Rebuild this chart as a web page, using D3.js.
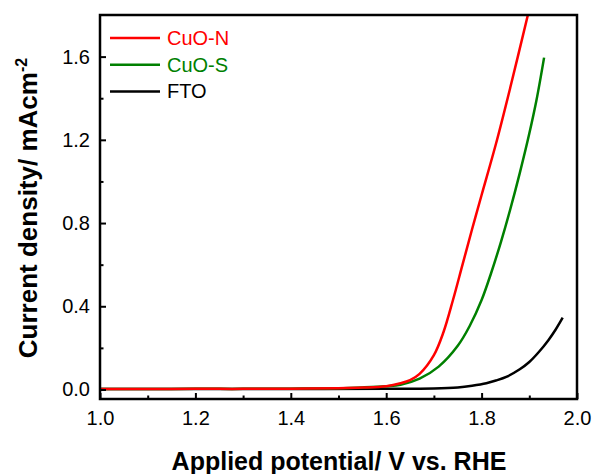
<!DOCTYPE html>
<html>
<head>
<meta charset="utf-8">
<script src="https://cdn.jsdelivr.net/npm/d3@7"></script>
<style>
  body { margin: 0; background: #fff; }
  #chart { width: 596px; height: 474px; }
  text { font-family: Arial, "Liberation Sans", sans-serif; }
  .tick-label { font-size: 20px; fill: #000; }
  .axis-title { font-weight: bold; fill: #000; }
  .legend-label { font-size: 20px; }
</style>
</head>
<body>
<div id="chart"></div>
<script>
// Potentials (V vs. RHE) and current densities (mA cm-2)
const cuoNPotential = [1.00, 1.10, 1.20, 1.30, 1.40, 1.50, 1.55, 1.60, 1.63, 1.65, 1.67, 1.70, 1.72, 1.74, 1.76, 1.78, 1.80, 1.83, 1.86, 1.897];
const cuoNCurrent   = [0.002, 0.002, 0.003, 0.003, 0.004, 0.006, 0.009, 0.016, 0.030, 0.045, 0.075, 0.165, 0.275, 0.43, 0.60, 0.77, 0.935, 1.18, 1.45, 1.80];

const cuoSPotential = [1.00, 1.10, 1.20, 1.30, 1.40, 1.50, 1.55, 1.60, 1.63, 1.67, 1.71, 1.75, 1.775, 1.80, 1.82, 1.84, 1.86, 1.88, 1.90, 1.915, 1.931];
const cuoSCurrent   = [0.002, 0.002, 0.003, 0.003, 0.004, 0.006, 0.010, 0.016, 0.023, 0.052, 0.11, 0.21, 0.305, 0.43, 0.56, 0.705, 0.865, 1.04, 1.23, 1.39, 1.595];

const ftoPotential = [1.00, 1.20, 1.40, 1.60, 1.70, 1.75, 1.78, 1.81, 1.83, 1.853, 1.88, 1.90, 1.92, 1.94, 1.955, 1.97];
const ftoCurrent   = [0.002, 0.002, 0.002, 0.003, 0.005, 0.010, 0.018, 0.030, 0.043, 0.062, 0.097, 0.132, 0.18, 0.237, 0.287, 0.345];

const seriesNames = ['CuO-N', 'CuO-S', 'FTO'];
const seriesColors = ['#ff0000', '#008000', '#000000'];

const xMajorTicks = [1.0, 1.2, 1.4, 1.6, 1.8, 2.0];
const xMinorTicks = [1.1, 1.3, 1.5, 1.7, 1.9];
const yMajorTicks = [0.0, 0.4, 0.8, 1.2, 1.6];
const yMinorTicks = [0.2, 0.6, 1.0, 1.4];

const xDomain = [1.0, 2.0];
const yDomain = [-0.0457, 1.8];


const seriesData = [
  { name: seriesNames[0], color: seriesColors[0], values: cuoNPotential.map((v, i) => ({ x: v, y: cuoNCurrent[i] })) },
  { name: seriesNames[1], color: seriesColors[1], values: cuoSPotential.map((v, i) => ({ x: v, y: cuoSCurrent[i] })) },
  { name: seriesNames[2], color: seriesColors[2], values: ftoPotential.map((v, i) => ({ x: v, y: ftoCurrent[i] })) }
];

const width = 596;
const height = 474;
const margin = { left: 100, top: 15, right: 19, bottom: 75 };

const svg = d3.select('#chart')
  .append('svg')
  .attr('width', width)
  .attr('height', height);

const x = d3.scaleLinear()
  .domain(xDomain)
  .range([margin.left, width - margin.right]);

const y = d3.scaleLinear()
  .domain(yDomain)
  .range([height - margin.bottom, margin.top]);

svg.append('clipPath')
  .attr('id', 'plot-clip')
  .append('rect')
  .attr('x', margin.left)
  .attr('y', margin.top)
  .attr('width', width - margin.left - margin.right)
  .attr('height', height - margin.top - margin.bottom);

// curves
const line = d3.line()
  .x(d => x(d.x))
  .y(d => y(d.y))
  .curve(d3.curveCatmullRom.alpha(0.5));

svg.append('g')
  .attr('clip-path', 'url(#plot-clip)')
  .selectAll('path.series')
  .data(seriesData.slice().reverse())
  .enter()
  .append('path')
  .attr('class', 'series')
  .attr('d', d => line(d.values))
  .style('fill', 'none')
  .style('stroke', d => d.color)
  .style('stroke-width', 2.5)
  .style('stroke-linejoin', 'round');

// axes, ticks pointing inward
const xAxisMajor = d3.axisBottom(x).tickValues(xMajorTicks).tickSizeInner(-6).tickSizeOuter(0).tickPadding(12).tickFormat(d3.format('.1f'));
const xAxisMinor = d3.axisBottom(x).tickValues(xMinorTicks).tickSizeInner(-3.5).tickSizeOuter(0).tickFormat('');
const yAxisMajor = d3.axisLeft(y).tickValues(yMajorTicks).tickSizeInner(-6).tickSizeOuter(0).tickPadding(10).tickFormat(d3.format('.1f'));
const yAxisMinor = d3.axisLeft(y).tickValues(yMinorTicks).tickSizeInner(-3.5).tickSizeOuter(0).tickFormat('');

function styleAxis(g) {
  g.select('.domain').remove();
  g.selectAll('.tick line').style('stroke', '#000').style('stroke-width', 2);
  g.selectAll('.tick text').attr('class', 'tick-label').style('font-family', null).style('font-size', null);
}

svg.append('g').attr('transform', 'translate(0,' + (height - margin.bottom) + ')').call(xAxisMajor).call(styleAxis);
svg.append('g').attr('transform', 'translate(0,' + (height - margin.bottom) + ')').call(xAxisMinor).call(styleAxis);
svg.append('g').attr('transform', 'translate(' + margin.left + ',0)').call(yAxisMajor).call(styleAxis);
svg.append('g').attr('transform', 'translate(' + margin.left + ',0)').call(yAxisMinor).call(styleAxis);

svg.selectAll('.tick-label').attr('fill', '#000');

// frame
svg.append('rect')
  .attr('x', margin.left)
  .attr('y', margin.top)
  .attr('width', width - margin.left - margin.right)
  .attr('height', height - margin.top - margin.bottom)
  .style('fill', 'none')
  .style('stroke', '#000')
  .style('stroke-width', 2.5);

// axis titles
svg.append('text')
  .attr('class', 'axis-title')
  .attr('x', 339)
  .attr('y', 470)
  .attr('text-anchor', 'middle')
  .style('font-size', '25px')
  .text('Applied potential/ V vs. RHE');

const yTitle = svg.append('text')
  .attr('class', 'axis-title')
  .attr('transform', 'translate(37,208) rotate(-90)')
  .attr('text-anchor', 'middle')
  .style('font-size', '26px');
yTitle.append('tspan').text('Current density/ mAcm');
yTitle.append('tspan').attr('dy', -10).style('font-size', '16px').text('-2');

// legend
const legend = svg.append('g')
  .selectAll('g.legend')
  .data(seriesData)
  .enter()
  .append('g')
  .attr('class', 'legend')
  .attr('transform', (d, i) => 'translate(110,' + (38 + i * 26.7) + ')');

legend.append('line')
  .attr('x1', 0)
  .attr('x2', 50)
  .style('stroke', d => d.color)
  .style('stroke-width', 2.5);

legend.append('text')
  .attr('class', 'legend-label')
  .attr('x', 57)
  .attr('dy', '0.35em')
  .style('fill', d => d.color)
  .text(d => d.name);
</script>
</body>
</html>
